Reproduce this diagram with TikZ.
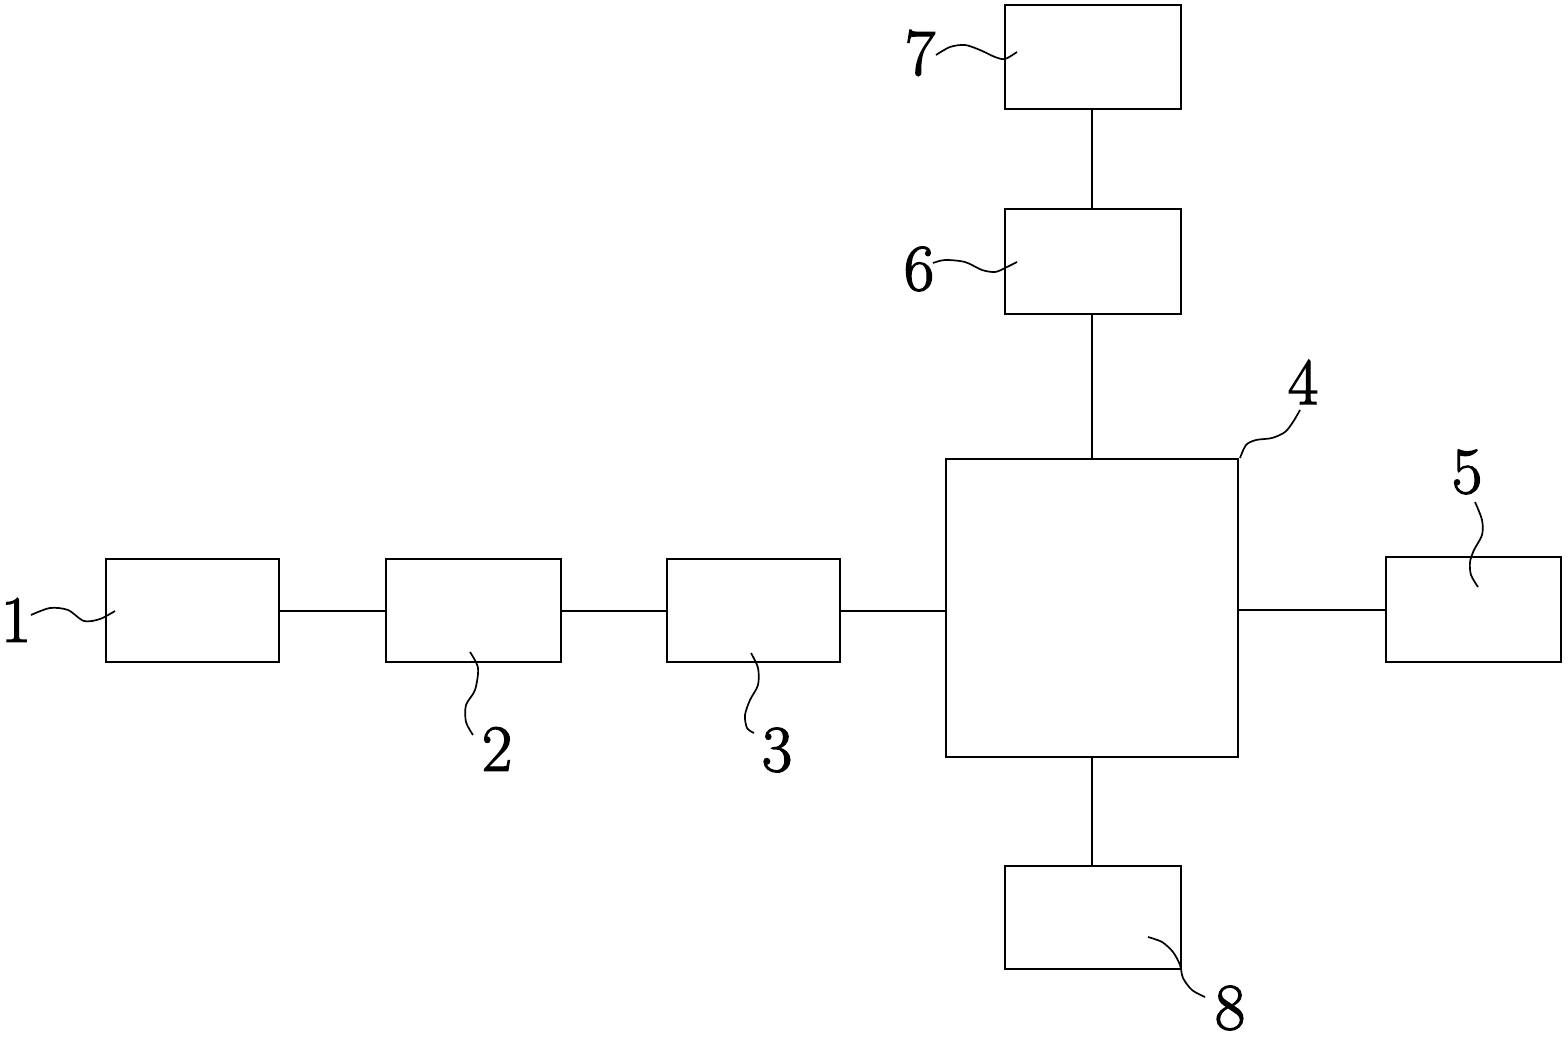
\documentclass[tikz,border=0pt]{standalone}
\usepackage{fontspec}
\setmainfont{Latin Modern Roman}
\newfontfamily\numfont[FakeBold=2]{Latin Modern Roman}
\begin{document}
\begin{tikzpicture}[x=1pt,y=-1pt,
  box/.style={draw,line width=2pt,inner sep=0pt,outer sep=0pt},
  conn/.style={line width=2pt},
  leader/.style={line width=1.7pt},
  num/.style={font=\numfont\fontsize{66}{70}\selectfont,inner sep=0pt}]
\useasboundingbox (0,0) rectangle (1568,1041);
\node[box,minimum width=173,minimum height=103] (b1) at (192.5,610.5) {};
\node[box,minimum width=175,minimum height=103] (b2) at (473.5,610.5) {};
\node[box,minimum width=173,minimum height=103] (b3) at (753.5,610.5) {};
\node[box,minimum width=292,minimum height=298] (b4) at (1092,608) {};
\node[box,minimum width=175,minimum height=105] (b5) at (1473.5,609.5) {};
\node[box,minimum width=176,minimum height=105] (b6) at (1093,261.5) {};
\node[box,minimum width=176,minimum height=104] (b7) at (1093,57) {};
\node[box,minimum width=176,minimum height=103] (b8) at (1093,917.5) {};
\draw[conn] (b1.east) -- (b2.west);
\draw[conn] (b2.east) -- (b3.west);
\draw[conn] (b3.east) -- (b3.east -| b4.west);
\draw[conn] (b4.east |- b5.west) -- (b5.west);
\draw[conn] (b4.north) -- (b4.north |- b6.south);
\draw[conn] (b6.north -| b4.north) -- (b7.south -| b4.north);
\draw[conn] (b4.south) -- (b4.south |- b8.north);
\node[num] (n1) at (16,620) {1};
\node[num] (n2) at (497,749) {2};
\node[num] (n3) at (777,750) {3};
\node[num] (n4) at (1303,382) {4};
\node[num] (n5) at (1467,472) {5};
\node[num] (n6) at (919,269) {6};
\node[num] (n7) at (920,53) {7};
\node[num] (n8) at (1230,1008) {8};
\draw[leader] plot[smooth] coordinates {(31,615) (50,608) (68,610) (84,621) (100,619) (115,611)};
\draw[leader] plot[smooth] coordinates {(470,652) (478,668) (475,690) (466,705) (466,722) (473,735)};
\draw[leader] plot[smooth] coordinates {(751,653) (758,668) (758,685) (750,700) (745,715) (747,728) (754,733)};
\draw[leader] plot[smooth] coordinates {(1240,458) (1246,445) (1256,440) (1272,438) (1285,432) (1293,422) (1300,410)};
\draw[leader] plot[smooth] coordinates {(1475,502) (1482,520) (1482,535) (1474,550) (1470,562) (1471,575) (1478,587)};
\draw[leader] plot[smooth] coordinates {(933,263) (945,260) (965,262) (982,270) (995,272) (1005,268) (1017,262)};
\draw[leader] plot[smooth] coordinates {(936,55) (950,47) (965,45) (980,50) (995,57) (1005,59) (1017,52)};
\draw[leader] plot[smooth] coordinates {(1148,937) (1162,942) (1173,952) (1180,965) (1183,978) (1192,990) (1205,997)};
\end{tikzpicture}
\end{document}
